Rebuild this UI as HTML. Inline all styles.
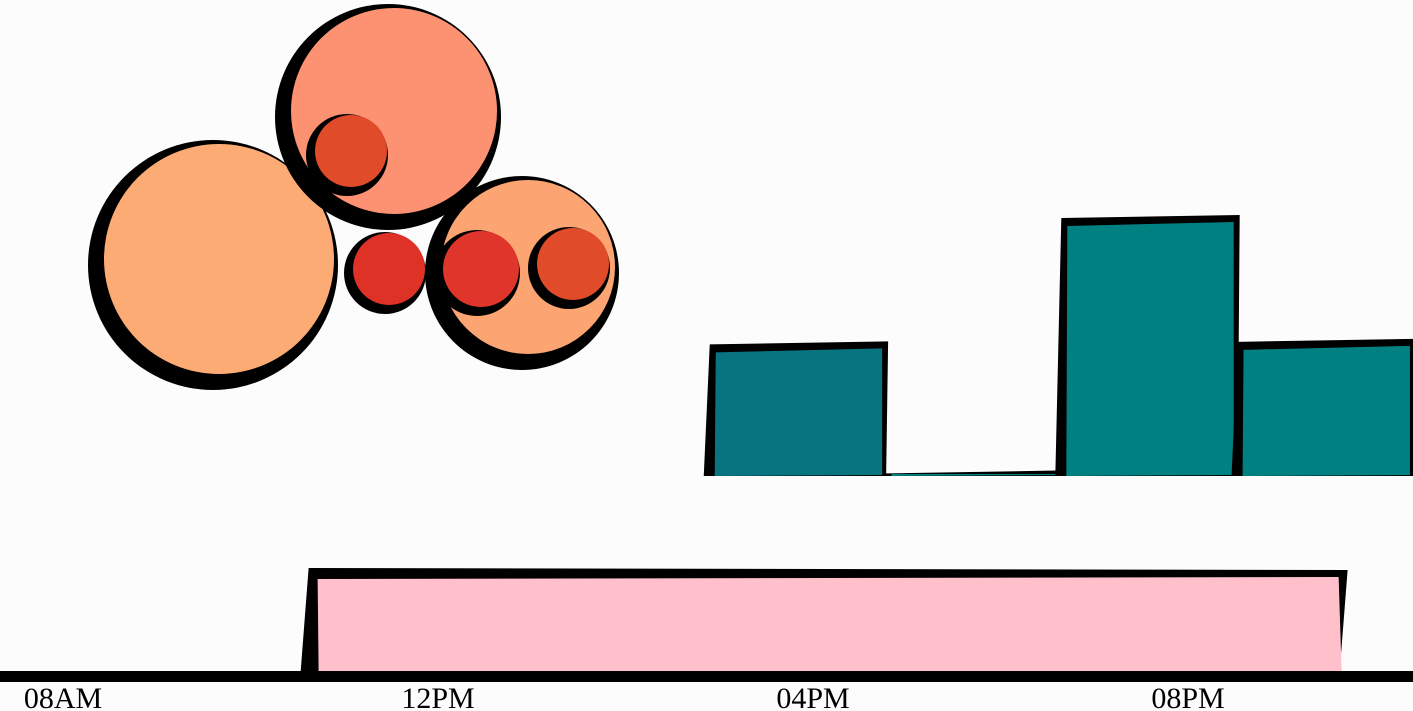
<!DOCTYPE html>
<html><head><meta charset="utf-8">
<style>
html,body{margin:0;padding:0;background:#fcfcfc;}
svg{display:block;}
text{font-family:"Liberation Serif",serif;font-size:30px;fill:#000;}
</style></head>
<body>
<svg id="chart" width="1413" height="711" viewBox="0 0 1413 711">
<rect width="1413" height="711" fill="#fcfcfc"/>
<g id="bubbles"></g>
<g id="bars"></g>
<g id="span"></g>
<g id="axis"></g>
</svg>
<script>
// ---- data ----
var tickHours = [8, 12, 16, 20];
var tickLabels = ["08AM", "12PM", "04PM", "08PM"];
var spanStart = [10.62];
var spanEnd = [21.66];
var barStarts = [14.92, 16.8, 18.67, 20.55];
var barValues = [51, 1, 100, 52];
var barColors = ["#077480", "#008080", "#008080", "#008080"];
var bubbleX = [218, 393, 527, 350, 388, 480, 572];
var bubbleY = [260, 112, 268, 152, 270, 270, 265];
var bubbleR = [120, 108, 92, 38, 38, 40, 38];
var bubbleColors = ["#fcab74", "#fc9272", "#fca572", "#e04b2a", "#de3226", "#e0352a", "#e04b2a"];

// ---- scales ----
var NS = "http://www.w3.org/2000/svg";
function x(h){ return 63 + (h - 8) * 93.75; }
var barBase = 476;
function yBar(v){ return barBase - v * 2.58; }
var barWidthH = 1.86;

function mk(tag, attrs, parent){
  var e = document.createElementNS(NS, tag);
  for (var k in attrs) e.setAttribute(k, attrs[k]);
  parent.appendChild(e);
  return e;
}

// bubbles
var gb = document.getElementById("bubbles");
for (var i = 0; i < bubbleX.length; i++){
  var big = bubbleR[i] > 60;
  var off = big ? 5 : 3;
  var sh = mk("circle", {cx: bubbleX[i] - off, cy: bubbleY[i] + off, r: bubbleR[i] + (big ? 5 : 3), fill: "#000"}, gb);
  
  
  var c = mk("circle", {cx: bubbleX[i] + 1, cy: bubbleY[i] - 1, r: bubbleR[i] - (big ? 5 : 2), fill: bubbleColors[i]}, gb);
  
  
}

// bars
var gbar = document.getElementById("bars");
for (var j = 0; j < barStarts.length; j++){
  var x0 = x(barStarts[j]), x1 = x(barStarts[j] + barWidthH), yt = yBar(barValues[j]);
  var o = mk("polygon", {points: (x0-8)+","+barBase+" "+(x0-2)+","+(yt)+" "+(x1+2)+","+(yt-3)+" "+(x1)+","+barBase, fill: "#000"}, gbar);
  
  
  var ti = Math.min(yt + 8, barBase - 2), ti2 = Math.min(yt + 4, barBase - 2);
  var b = mk("polygon", {points: (x0+3)+","+barBase+" "+(x0+4)+","+ti+" "+(x1-4)+","+ti2+" "+(x1-4)+","+(barBase-1), fill: barColors[j]}, gbar);
  
  
}

// span
var gs = document.getElementById("span");
var sx0 = x(spanStart[0]), sx1 = x(spanEnd[0]);
var so = mk("polygon", {points: (sx0-8)+",672 "+(sx0)+",568 "+(sx1+4)+",570 "+(sx1-4)+",672", fill: "#000"}, gs);


var sp = mk("polygon", {points: (sx0+10)+",672 "+(sx0+9)+",579 "+(sx1-5)+",577 "+(sx1-2)+",672", fill: "#ffc0cb"}, gs);



// axis
var ga = document.getElementById("axis");
var al = mk("rect", {x: 0, y: 671, width: 1413, height: 11, fill: "#000"}, ga);


for (var t = 0; t < tickHours.length; t++){
  var tx = mk("text", {x: x(tickHours[t]), y: 708, "text-anchor": "middle"}, ga);
  tx.textContent = tickLabels[t];
  
  
}
</script>
</body></html>
